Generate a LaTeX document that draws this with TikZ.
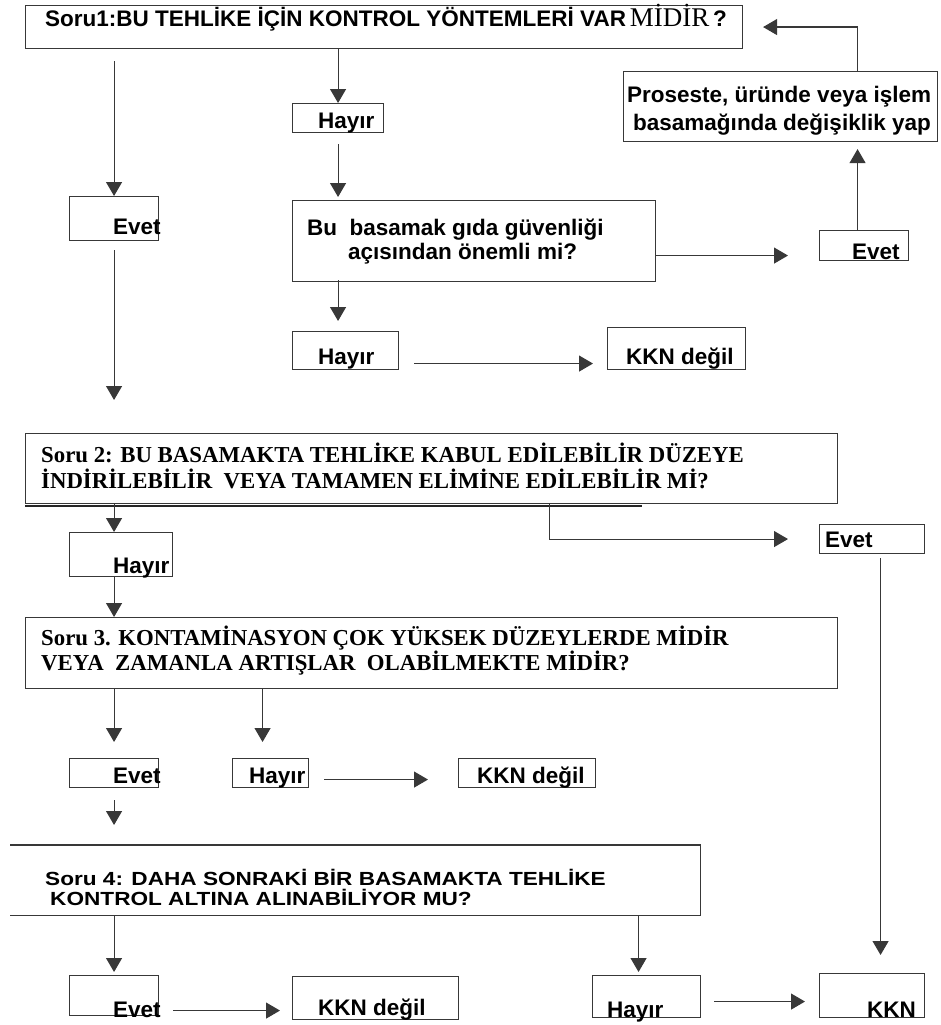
\documentclass[tikz,border=0pt]{standalone}
\usepackage{fontspec}
\setmainfont{Liberation Sans}
\newfontfamily\tnr{Liberation Serif}
\newfontfamily\widesans[FakeStretch=1.19]{Liberation Sans}
\usetikzlibrary{arrows.meta,calc}
\tikzset{
  box/.style={draw=black!78, line width=1.1pt, inner sep=0pt, anchor=north west},
  arr/.style={draw=black!78, line width=1.1pt, -{Triangle[width=16pt,length=14pt]}},
  lbl/.style={anchor=base west, inner sep=0pt, font=\fontsize{22.5}{27}\selectfont\bfseries},
  slbl/.style={anchor=base west, inner sep=0pt, font=\fontsize{22.8}{27}\selectfont\tnr\bfseries},
  wlbl/.style={anchor=base west, inner sep=0pt, font=\fontsize{19}{22}\selectfont\widesans\bfseries},
}
\newcommand\mybox[5]{\node[box, minimum width={(#4-#2)*1pt}, minimum height={(#5-#3)*1pt}] (#1) at (#2,#3) {};}
\begin{document}
\begin{tikzpicture}[x=1pt,y=-1pt]
\useasboundingbox (0,0) rectangle (941,1025);
% boxes
\mybox{soru1}{25}{5}{742}{48}
\mybox{pro}{623}{71}{937}{141}
\mybox{evet1}{69}{196}{158}{240}
\mybox{hayir1}{292}{103}{383}{132}
\mybox{q1}{292}{200}{655}{281}
\mybox{evet2}{819}{230}{908}{260}
\mybox{hayir2}{292}{331}{398}{369}
\mybox{kkn1}{607}{327}{745}{369}
\mybox{soru2}{25}{433}{837}{503}
\mybox{hayir3}{69}{532}{172}{576}
\mybox{evet3}{819}{524}{924}{553}
\mybox{soru3}{25}{617}{837}{688}
\mybox{evet4}{69}{758}{158}{787}
\mybox{hayir4}{232}{758}{308}{787}
\mybox{kkn2}{458}{758}{595}{787}
\node[inner sep=0pt, anchor=north west, minimum width=690pt, minimum height=70pt] (s4) at (10,845) {};
\draw[draw=black!78, line width=1.1pt] (s4.north west) -- (s4.north east) -- (s4.south east) -- (s4.south west);
\mybox{evet5}{69}{975}{158}{1015}
\mybox{kkn3}{292}{976}{458}{1019}
\mybox{hayir5}{592}{975}{700}{1017}
\mybox{kkn}{819}{973}{924}{1017}
\draw[draw=black!85, line width=1.6pt] ([yshift=-1.6pt]soru2.south west) -- ++(617,0);
% texts
\node[lbl] (t1) at (45,27) {Soru1:BU TEHLİKE İÇİN KONTROL YÖNTEMLERİ VAR\,{\fontsize{27}{27}\selectfont\tnr\mdseries MİDİR}\,?};
\node[lbl] (tp1) at (627,102) {Proseste, üründe veya işlem};
\node[lbl] (tp2) at (633,130) {basamağında değişiklik yap};
\node[lbl] (te1) at (113,234) {Evet};
\node[lbl] (th1) at (318,128) {Hayır};
\node[lbl] (tq1) at (307,235) {Bu\ \ basamak gıda güvenliği};
\node[lbl] (tq2) at (348,259) {açısından önemli mi?};
\node[lbl] (te2) at (852,259) {Evet};
\node[lbl] (th2) at (318,364) {Hayır};
\node[lbl] (tk1) at (626,364) {KKN değil};
\node[slbl] (ts21) at (41,462) {Soru 2: BU BASAMAKTA TEHLİKE KABUL EDİLEBİLİR DÜZEYE};
\node[slbl] (ts22) at (41,488) {İNDİRİLEBİLİR\ \ VEYA TAMAMEN ELİMİNE EDİLEBİLİR Mİ?};
\node[lbl] (th3) at (113,573) {Hayır};
\node[lbl] (te3) at (825,547) {Evet};
\node[slbl] (ts31) at (41,645) {Soru 3. KONTAMİNASYON ÇOK YÜKSEK DÜZEYLERDE MİDİR};
\node[slbl] (ts32) at (41,670) {VEYA\ \ ZAMANLA ARTIŞLAR\ \ OLABİLMEKTE MİDİR?};
\node[lbl] (te4) at (113,783) {Evet};
\node[lbl] (th4) at (249,783) {Hayır};
\node[lbl] (tk2) at (477,783) {KKN değil};
\node[wlbl] (ts41) at (45,885) {Soru 4: DAHA SONRAKİ BİR BASAMAKTA TEHLİKE};
\node[wlbl] (ts42) at (50,905) {KONTROL ALTINA ALINABİLİYOR MU?};
\node[lbl] (te5) at (113,1017) {Evet};
\node[lbl] (tk3) at (318,1015) {KKN değil};
\node[lbl] (th5) at (607,1017) {Hayır};
\node[lbl] (tk) at (867,1017) {KKN};
% connectors
\draw[arr, shorten <=12pt] (evet1.north |- soru1.south) -- (evet1.north);
\draw[arr] (hayir1.north |- soru1.south) -- (hayir1.north);
\draw[arr, shorten <=11pt, shorten >=3pt] (hayir1.south) -- (q1.north -| hayir1.south);
\draw[arr, shorten <=9pt, shorten >=33pt] (evet1.south) -- (evet1.south |- soru2.north);
\draw[arr, shorten >=31pt] ([yshift=-14.5pt]q1.east) -- ([yshift=-14.5pt]q1.east -| evet2.west);
\draw[arr, shorten >=7pt] ([xshift=-6.5pt]evet2.north) -- ([xshift=-6.5pt]evet2.north |- pro.south);
\draw[arr, shorten >=20pt] ([xshift=-6.5pt]evet2.north |- pro.north) |- (soru1.east);
\draw[arr, shorten <=-2pt, shorten >=10pt] (q1.south -| hayir1.south) -- (hayir2.north -| hayir1.south);
\draw[arr, shorten <=15pt, shorten >=14pt] ([yshift=-13pt]hayir2.east) -- ([yshift=-13pt]hayir2.east -| kkn1.west);
\draw[arr] (soru2.south -| evet1.south) -- (hayir3.north -| evet1.south);
\draw[arr] (hayir3.south -| evet1.south) -- (soru3.north -| evet1.south);
\draw[arr, shorten >=31pt] ([xshift=118pt]soru2.south) |- (evet3.west);
\draw[arr, shorten <=4pt, shorten >=18pt] ([xshift=8.5pt]evet3.south) -- ([xshift=8.5pt]kkn.north);
\draw[arr, shorten >=16pt] (evet4.north |- soru3.south) -- (evet4.north);
\draw[arr, shorten >=16pt] ([xshift=-8pt]hayir4.north |- soru3.south) -- ([xshift=-8pt]hayir4.north);
\draw[arr, shorten <=15pt, shorten >=30pt] ([yshift=-6.5pt]hayir4.east) -- ([yshift=-6.5pt]hayir4.east -| kkn2.west);
\draw[arr, shorten <=12pt, shorten >=20pt] (evet4.south) -- (evet4.south |- s4.north);
\draw[arr, shorten >=3pt] (evet5.north |- s4.south) -- (evet5.north);
\draw[arr, shorten <=14pt, shorten >=12pt] ([yshift=-15pt]evet5.east) -- ([yshift=-15pt]evet5.east -| kkn3.west);
\draw[arr, shorten >=3pt] ([xshift=-8pt]hayir5.north |- s4.south) -- ([xshift=-8pt]hayir5.north);
\draw[arr, shorten <=13pt, shorten >=14pt] ([yshift=-5pt]hayir5.east) -- ([yshift=-5pt]hayir5.east -| kkn.west);
\end{tikzpicture}
\end{document}
